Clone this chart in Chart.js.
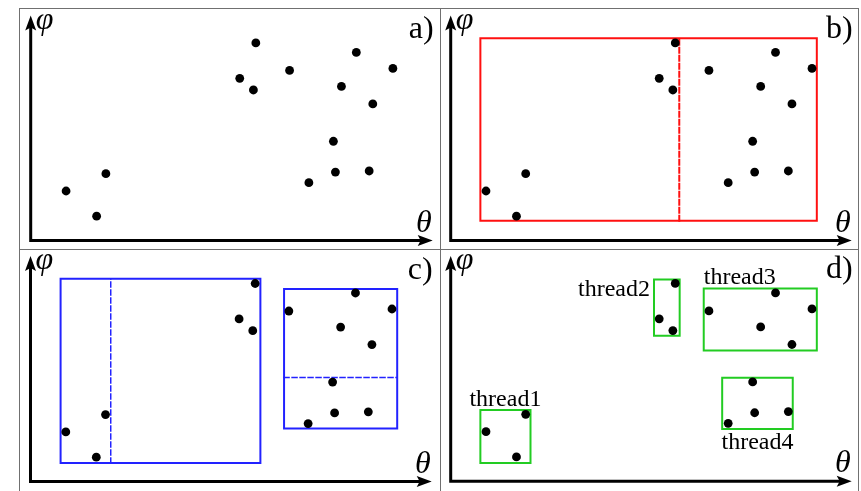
<!DOCTYPE html>
<html>
<head>
<meta charset="utf-8">
<script src="https://cdn.jsdelivr.net/npm/chart.js@4.4.1/dist/chart.umd.min.js"></script>
<style>
  html, body { margin: 0; padding: 0; background: #fff; }
  #stage { position: relative; width: 861px; height: 491px; overflow: hidden; }
  .rule { position: absolute; background: #707070; }
  canvas { position: absolute; }
</style>
</head>
<body>
<div id="stage">
  <div class="rule" style="left:19px;top:8px;width:840px;height:1px"></div>
  <div class="rule" style="left:19px;top:8px;width:1px;height:483px"></div>
  <div class="rule" style="left:440px;top:8px;width:1px;height:483px"></div>
  <div class="rule" style="left:858px;top:8px;width:1px;height:483px"></div>
  <div class="rule" style="left:19px;top:249px;width:840px;height:1px"></div>
  <canvas id="panelA" width="420" height="240" style="left:20px;top:9px"></canvas>
  <canvas id="panelB" width="417" height="240" style="left:441px;top:9px"></canvas>
  <canvas id="panelC" width="420" height="241" style="left:20px;top:250px"></canvas>
  <canvas id="panelD" width="417" height="241" style="left:441px;top:250px"></canvas>
</div>
<script>
// Sample points in (theta, phi), both axes running 0..100
const thetaValues = [8.8, 16.4, 18.7, 52.0, 56.0, 55.4, 64.4, 81.0, 90.1, 77.3, 85.1, 75.3, 75.8, 84.2, 69.2];
const phiValues   = [22.0, 10.8, 29.7, 72.1, 87.8, 66.9, 75.6, 83.6, 76.5, 68.5, 60.7, 44.1, 30.4, 30.9, 25.7];

const axisMax = 100;
const panelLetters = ['a)', 'b)', 'c)', 'd)'];

// Boxes are [thetaMin, thetaMax, phiMin, phiMax]
const rootBox = [7.4, 91.3, 8.8, 89.9];
const rootSplitTheta = 57.0;

const childBoxes = [[7.5, 57.3, 8.2, 89.9], [63.2, 91.4, 23.5, 85.4]];
const leftChildSplitTheta = 20.0;
const rightChildSplitPhi = 46.1;

const threadNames = ['thread1', 'thread2', 'thread3', 'thread4'];
const threadBoxes = [[7.4, 19.9, 8.1, 31.6], [50.7, 57.1, 64.6, 89.6], [63.1, 91.3, 58.0, 85.6], [67.7, 85.3, 23.2, 45.9]];
const threadLabelSides = ['above', 'left', 'aboveLeft', 'below'];

const RED = '#ff1010', BLUE = '#2222ff', GREEN = '#22cc22';

const points = thetaValues.map((t, i) => ({ x: t, y: phiValues[i] }));

function boxPath(b) {
  return [{ x: b[0], y: b[2] }, { x: b[1], y: b[2] }, { x: b[1], y: b[3] }, { x: b[0], y: b[3] }, { x: b[0], y: b[2] }];
}

function outline(data, color, width, dash) {
  return {
    data, showLine: true, borderColor: color, backgroundColor: color,
    borderWidth: width, borderDash: dash || [], pointRadius: 0,
    borderCapStyle: 'square', borderJoinStyle: 'miter', fill: false, order: 2
  };
}

function dots() {
  return { data: points, pointRadius: 4.4, pointBackgroundColor: '#000', pointBorderWidth: 0, order: 0 };
}

// Axes with arrowheads, axis symbols, panel letter and thread captions
const diagramPlugin = {
  id: 'diagram',
  beforeDatasetsDraw(chart) {
    const ctx = chart.ctx, xs = chart.scales.x, ys = chart.scales.y;
    const ox = xs.getPixelForValue(0), oy = ys.getPixelForValue(0);
    const tx = xs.getPixelForValue(axisMax), ty = ys.getPixelForValue(axisMax);
    ctx.save();
    ctx.strokeStyle = '#000';
    ctx.fillStyle = '#000';
    ctx.lineWidth = 3;
    ctx.lineCap = 'square';
    ctx.beginPath();
    ctx.moveTo(tx - 10, oy); ctx.lineTo(ox, oy); ctx.lineTo(ox, ty + 10);
    ctx.stroke();
    const len = 15, half = 5.5, notch = 3;
    ctx.beginPath();
    ctx.moveTo(tx, oy); ctx.lineTo(tx - len, oy - half); ctx.lineTo(tx - len + notch, oy); ctx.lineTo(tx - len, oy + half);
    ctx.closePath(); ctx.fill();
    ctx.beginPath();
    ctx.moveTo(ox, ty); ctx.lineTo(ox - half, ty + len); ctx.lineTo(ox, ty + len - notch); ctx.lineTo(ox + half, ty + len);
    ctx.closePath(); ctx.fill();

    ctx.font = 'italic 32px "Liberation Serif", "DejaVu Serif", serif';
    ctx.textBaseline = 'alphabetic';
    ctx.textAlign = 'left';
    ctx.fillText('\u03C6', ox + 5, ty + 13);
    ctx.textAlign = 'right';
    ctx.fillText('\u03B8', tx - 1, oy - 9);

    ctx.font = '32px "Liberation Serif", serif';
    ctx.textAlign = 'right';
    ctx.fillText(chart.options.plugins.diagram.letter, tx + 1, oy - 203);
    ctx.restore();
  },
  afterDatasetsDraw(chart) {
    if (!chart.options.plugins.diagram.threads) return;
    const ctx = chart.ctx, xs = chart.scales.x, ys = chart.scales.y;
    ctx.save();
    ctx.fillStyle = '#000';
    ctx.font = '24px "Liberation Serif", serif';
    ctx.textBaseline = 'alphabetic';
    threadBoxes.forEach((b, i) => {
      const l = xs.getPixelForValue(b[0]), r = xs.getPixelForValue(b[1]);
      const top = ys.getPixelForValue(b[3]), bottom = ys.getPixelForValue(b[2]);
      const side = threadLabelSides[i];
      if (side === 'above') { ctx.textAlign = 'center'; ctx.fillText(threadNames[i], (l + r) / 2, top - 4); }
      else if (side === 'left') { ctx.textAlign = 'right'; ctx.fillText(threadNames[i], l - 4, top + 17); }
      else if (side === 'aboveLeft') { ctx.textAlign = 'left'; ctx.fillText(threadNames[i], l, top - 4); }
      else { ctx.textAlign = 'center'; ctx.fillText(threadNames[i], (l + r) / 2, bottom + 20); }
    });
    ctx.restore();
  }
};

function makePanel(id, letter, padding, extraSets, threads) {
  new Chart(document.getElementById(id), {
    type: 'scatter',
    data: { datasets: [dots()].concat(extraSets) },
    options: {
      responsive: false,
      animation: false,
      events: [],
      layout: { padding },
      scales: {
        x: { type: 'linear', min: 0, max: axisMax, display: false },
        y: { type: 'linear', min: 0, max: axisMax, display: false }
      },
      plugins: {
        legend: { display: false },
        tooltip: { enabled: false },
        diagram: { letter, threads: !!threads }
      }
    },
    plugins: [diagramPlugin]
  });
}

makePanel('panelA', panelLetters[0], { left: 10.7, right: 7.3, top: 6.5, bottom: 8.5 }, []);

makePanel('panelB', panelLetters[1], { left: 9.7, right: 6.3, top: 6.5, bottom: 8.5 }, [
  outline(boxPath(rootBox), RED, 2),
  outline([{ x: rootSplitTheta, y: rootBox[2] }, { x: rootSplitTheta, y: rootBox[3] }], RED, 2, [5, 3])
]);

makePanel('panelC', panelLetters[2], { left: 10.5, right: 8.3, top: 6, bottom: 9.5 }, [
  outline(boxPath(childBoxes[0]), BLUE, 2),
  outline(boxPath(childBoxes[1]), BLUE, 2),
  outline([{ x: leftChildSplitTheta, y: childBoxes[0][2] }, { x: leftChildSplitTheta, y: childBoxes[0][3] }], BLUE, 1.5, [5, 3]),
  outline([{ x: childBoxes[1][0], y: rightChildSplitPhi }, { x: childBoxes[1][1], y: rightChildSplitPhi }], BLUE, 1.5, [5, 3])
]);

makePanel('panelD', panelLetters[3], { left: 9.7, right: 6.3, top: 6, bottom: 9.8 },
  threadBoxes.map(b => outline(boxPath(b), GREEN, 2)), true);
</script>
</body>
</html>
